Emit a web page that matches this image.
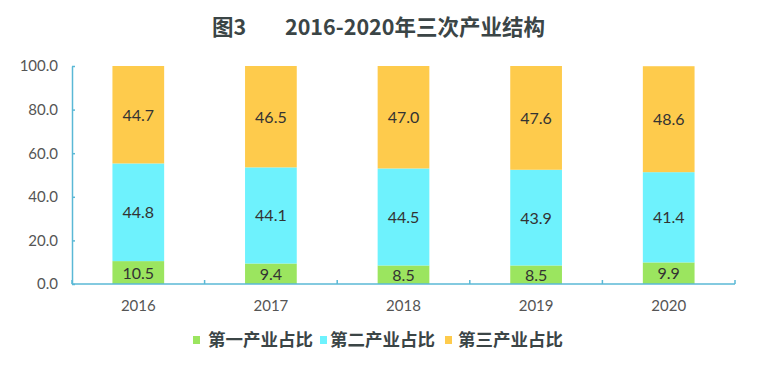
<!DOCTYPE html>
<html>
<head>
<meta charset="utf-8">
<script src="https://cdn.jsdelivr.net/npm/d3@7"></script>
<style>
  body { margin: 0; background: #fff; }
  svg { display: block; }
</style>
</head>
<body>
<div id="chart"></div>
<script>
const width = 758;
const height = 369;

// data
const years = ["2016", "2017", "2018", "2019", "2020"];
const primary = [10.5, 9.4, 8.5, 8.5, 9.9];
const secondary = [44.8, 44.1, 44.5, 43.9, 41.4];
const tertiary = [44.7, 46.5, 47.0, 47.6, 48.6];
const seriesNames = ["第一产业占比", "第二产业占比", "第三产业占比"];
const yTicks = [0, 20, 40, 60, 80, 100];

const colors = ["#9be55f", "#6ef2fd", "#fecb4c"];
const axisColor = "#5ab8d6";
const cjk = "'Noto Sans CJK SC', 'Microsoft YaHei', sans-serif";
const numFont = "Lato, 'Open Sans', sans-serif";

const margin = { left: 72, right: 23, top: 66, bottom: 85 };

const svg = d3
  .select("#chart")
  .append("svg")
  .attr("width", width)
  .attr("height", height);

const rows = years.map((y, i) => ({
  year: y,
  s0: primary[i],
  s1: secondary[i],
  s2: tertiary[i]
}));

const stack = d3.stack().keys(["s0", "s1", "s2"]);
const layers = stack(rows);

const scale_X = d3
  .scaleBand()
  .domain(years)
  .range([margin.left, width - margin.right])
  .paddingInner(0.61)
  .paddingOuter(0.305);

const scale_Y = d3
  .scaleLinear()
  .domain([0, 100])
  .range([height - margin.bottom, margin.top]);

// title
const title = svg
  .append("text")
  .attr("y", 35)
  .attr("font-family", cjk)
  .attr("font-weight", "bold")
  .attr("font-size", 21.5)
  .attr("fill", "#3b4546");
title.append("tspan").attr("x", 212).text("图3");
title.append("tspan").attr("x", 285).text("2016-2020年三次产业结构");

// bars
const groups = svg
  .selectAll("g.layer")
  .data(layers)
  .enter()
  .append("g")
  .attr("class", "layer")
  .attr("fill", (d, i) => colors[i]);

groups
  .selectAll("rect")
  .data((d) => d)
  .enter()
  .append("rect")
  .attr("x", (d) => scale_X(d.data.year))
  .attr("y", (d) => scale_Y(d[1]))
  .attr("width", scale_X.bandwidth())
  .attr("height", (d) => scale_Y(d[0]) - scale_Y(d[1]));

groups
  .selectAll("text")
  .data((d) => d.map((p) => ({ p: p, key: d.key })))
  .enter()
  .append("text")
  .attr("x", (d) => scale_X(d.p.data.year) + scale_X.bandwidth() / 2)
  .attr("y", (d) => (scale_Y(d.p[0]) + scale_Y(d.p[1])) / 2 + 6)
  .attr("text-anchor", "middle")
  .attr("font-family", numFont)
  .attr("font-size", 16)
  .attr("fill", "#333")
  .text((d) => d.p.data[d.key].toFixed(1));

// y axis
const axis_Y = d3
  .axisLeft(scale_Y)
  .tickValues(yTicks)
  .tickSizeInner(-3)
  .tickSizeOuter(0)
  .tickPadding(14)
  .tickFormat(d3.format(".1f"));

const gy = svg
  .append("g")
  .attr("transform", "translate(" + margin.left + ",0)")
  .call(axis_Y);
gy.select(".domain").attr("stroke", axisColor).attr("stroke-width", 1.5);
gy.selectAll(".tick line").attr("stroke", axisColor).attr("stroke-width", 1.5);
gy.selectAll("text")
  .attr("font-family", numFont)
  .attr("font-size", 15)
  .attr("fill", "#555");

// x axis with ticks at category boundaries
const gx = svg
  .append("g")
  .attr("transform", "translate(0," + scale_Y(0) + ")");
gx.append("line")
  .attr("x1", margin.left)
  .attr("x2", width - margin.right)
  .attr("stroke", axisColor)
  .attr("stroke-width", 1.5);
const step = scale_X.step();
gx.selectAll("line.tick")
  .data(d3.range(years.length + 1))
  .enter()
  .append("line")
  .attr("class", "tick")
  .attr("x1", (i) => margin.left + i * step)
  .attr("x2", (i) => margin.left + i * step)
  .attr("y1", 0)
  .attr("y2", -4)
  .attr("stroke", axisColor)
  .attr("stroke-width", 1.5);
gx.selectAll("text")
  .data(years)
  .enter()
  .append("text")
  .attr("x", (d) => scale_X(d) + scale_X.bandwidth() / 2)
  .attr("y", 27)
  .attr("text-anchor", "middle")
  .attr("font-family", numFont)
  .attr("font-size", 15)
  .attr("fill", "#555")
  .text((d) => d);

// legend
const swatchX = [193, 320, 445];
const labelX = [208, 330, 458];
const legend = svg
  .append("g")
  .selectAll("g")
  .data(seriesNames)
  .enter()
  .append("g");
legend
  .append("rect")
  .attr("x", (d, i) => swatchX[i])
  .attr("y", 336)
  .attr("width", 7)
  .attr("height", 8)
  .attr("fill", (d, i) => colors[i]);
legend
  .append("text")
  .attr("x", (d, i) => labelX[i])
  .attr("y", 346)
  .attr("font-family", cjk)
  .attr("font-weight", "bold")
  .attr("font-size", 17.5)
  .attr("fill", "#3b4546")
  .text((d) => d);
</script>
</body>
</html>
